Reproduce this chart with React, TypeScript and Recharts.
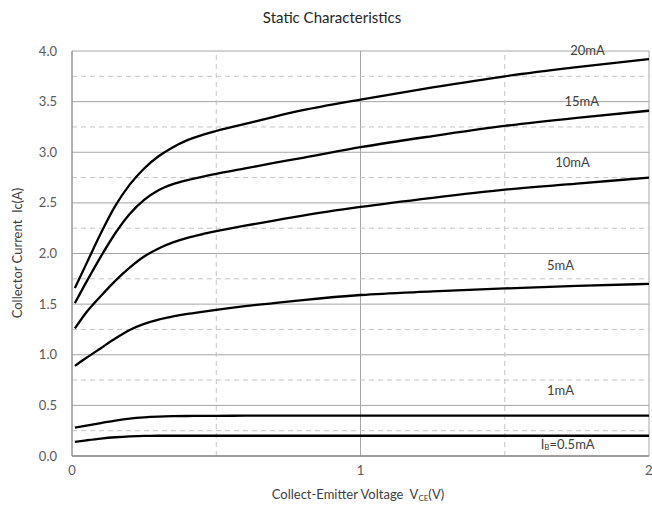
import { CartesianGrid, Label, Line, LineChart, ReferenceDot, ReferenceLine, XAxis, YAxis } from "recharts";

// collector-emitter voltage (V) sample points
const vce = [0.01, 0.05, 0.1, 0.15, 0.2, 0.25, 0.3, 0.35, 0.4, 0.45, 0.5, 0.6, 0.7, 0.8, 1.0, 1.25, 1.5, 1.75, 2.0];

// collector current (A) for each base current
const ib20 = [1.66, 1.9, 2.2, 2.47, 2.68, 2.84, 2.96, 3.05, 3.12, 3.17, 3.21, 3.28, 3.35, 3.415, 3.52, 3.64, 3.75, 3.84, 3.92];
const ib15 = [1.51, 1.72, 1.97, 2.2, 2.39, 2.53, 2.625, 2.685, 2.725, 2.758, 2.787, 2.84, 2.895, 2.945, 3.05, 3.16, 3.26, 3.34, 3.41];
const ib10 = [1.26, 1.42, 1.58, 1.73, 1.86, 1.97, 2.05, 2.11, 2.155, 2.19, 2.22, 2.275, 2.325, 2.375, 2.46, 2.55, 2.63, 2.69, 2.75];
const ib5 = [0.89, 0.97, 1.065, 1.16, 1.245, 1.305, 1.348, 1.378, 1.403, 1.424, 1.444, 1.48, 1.51, 1.54, 1.59, 1.625, 1.655, 1.68, 1.7];
const ib1 = [0.28, 0.3, 0.325, 0.35, 0.37, 0.382, 0.389, 0.393, 0.395, 0.396, 0.397, 0.398, 0.398, 0.398, 0.398, 0.398, 0.398, 0.398, 0.398];
const ib05 = [0.14, 0.155, 0.172, 0.185, 0.194, 0.199, 0.2, 0.2, 0.2, 0.2, 0.2, 0.2, 0.2, 0.2, 0.2, 0.2, 0.2, 0.2, 0.2];

const seriesKeys = ["ib20", "ib15", "ib10", "ib5", "ib1", "ib05"];

const xTicks = [0, 1, 2];
const xMinor = [0.5, 1.5];
const yTicks = [0, 0.5, 1, 1.5, 2, 2.5, 3, 3.5, 4];
const yMinor = [0.25, 0.75, 1.25, 1.75, 2.25, 2.75, 3.25, 3.75];

// curve labels, placed in data units
const curveLabels = [
  { text: "20mA", x: 1.787, y: 4.01 },
  { text: "15mA", x: 1.767, y: 3.5 },
  { text: "10mA", x: 1.735, y: 2.895 },
  { text: "5mA", x: 1.693, y: 1.88 },
  { text: "1mA", x: 1.693, y: 0.65 },
];
const ibLabel = { x: 1.718, y: 0.12 };

const rows = vce.map((v, i) => ({
  vce: v,
  ib20: ib20[i],
  ib15: ib15[i],
  ib10: ib10[i],
  ib5: ib5[i],
  ib1: ib1[i],
  ib05: ib05[i],
}));

const FONT = "Lato, 'Open Sans', sans-serif";
const TEXT = "#404040";

export default function App() {
  return (
    <div style={{ position: "absolute", left: 0, top: 0, width: 652, height: 509, background: "#fff", fontFamily: FONT }}>
      <div style={{ position: "absolute", left: 0, width: 664, top: 8, textAlign: "center", fontSize: 15, color: "#262626" }}>
        Static Characteristics
      </div>
      <LineChart width={652} height={509} data={rows} margin={{ top: 51, right: 3, left: 0, bottom: 0 }}>
        <CartesianGrid stroke="#a6a6a6" strokeWidth={1} />
        {yMinor.map((v) => (
          <ReferenceLine key={`h${v}`} y={v} stroke="#c4c4c4" strokeDasharray="5 4" />
        ))}
        {xMinor.map((v) => (
          <ReferenceLine key={`v${v}`} x={v} stroke="#c4c4c4" strokeDasharray="5 4" />
        ))}
        <XAxis
          type="number"
          dataKey="vce"
          domain={[0, 2]}
          ticks={xTicks}
          height={53}
          tickSize={0}
          tickMargin={10}
          tickLine={false}
          axisLine={{ stroke: "#8c8c8c", strokeWidth: 1.5 }}
          tick={{ fontSize: 13, fill: "#595959", fontFamily: FONT }}
        >
          <Label
            content={() => (
              <text x={358} y={499} textAnchor="middle" fontSize={13} fill={TEXT} fontFamily={FONT} style={{ whiteSpace: "pre" }}>
                <tspan>{"Collect-Emitter Voltage  V"}</tspan>
                <tspan fontSize={8} dy={2}>CE</tspan>
                <tspan fontSize={13} dy={-2}>(V)</tspan>
              </text>
            )}
          />
        </XAxis>
        <YAxis
          type="number"
          domain={[0, 4]}
          ticks={yTicks}
          width={72}
          tickSize={0}
          tickMargin={15}
          tickLine={false}
          axisLine={{ stroke: "#8c8c8c" }}
          tickFormatter={(v: number) => v.toFixed(1)}
          tick={{ fontSize: 13, fill: "#595959", fontFamily: FONT }}
        >
          <Label
            content={() => (
              <text
                x={17}
                y={253}
                transform="rotate(-90 17 253)"
                textAnchor="middle"
                dominantBaseline="central"
                fontSize={13}
                fill={TEXT}
                fontFamily={FONT}
                style={{ whiteSpace: "pre" }}
              >
                {"Collector Current  Ic(A)"}
              </text>
            )}
          />
        </YAxis>
        {seriesKeys.map((k) => (
          <Line
            key={k}
            type="monotone"
            dataKey={k}
            stroke="#000"
            strokeWidth={2.3}
            dot={false}
            isAnimationActive={false}
          />
        ))}
        {curveLabels.map((l) => (
          <ReferenceDot
            key={l.text}
            x={l.x}
            y={l.y}
            r={0}
            fill="none"
            stroke="none"
            ifOverflow="visible"
            label={{ value: l.text, position: "center", fontSize: 13, fill: TEXT, fontFamily: FONT }}
          />
        ))}
        <ReferenceDot
          x={ibLabel.x}
          y={ibLabel.y}
          r={0}
          fill="none"
          stroke="none"
          ifOverflow="visible"
          label={({ viewBox }: any) => {
            const cx = viewBox.x + (viewBox.width || 0) / 2;
            const cy = viewBox.y + (viewBox.height || 0) / 2;
            return (
              <text x={cx} y={cy} textAnchor="middle" dominantBaseline="central" fontSize={13} fill={TEXT} fontFamily={FONT}>
                <tspan>I</tspan>
                <tspan fontSize={8} dy={3}>B</tspan>
                <tspan fontSize={13} dy={-3}>=0.5mA</tspan>
              </text>
            );
          }}
        />
      </LineChart>
    </div>
  );
}
